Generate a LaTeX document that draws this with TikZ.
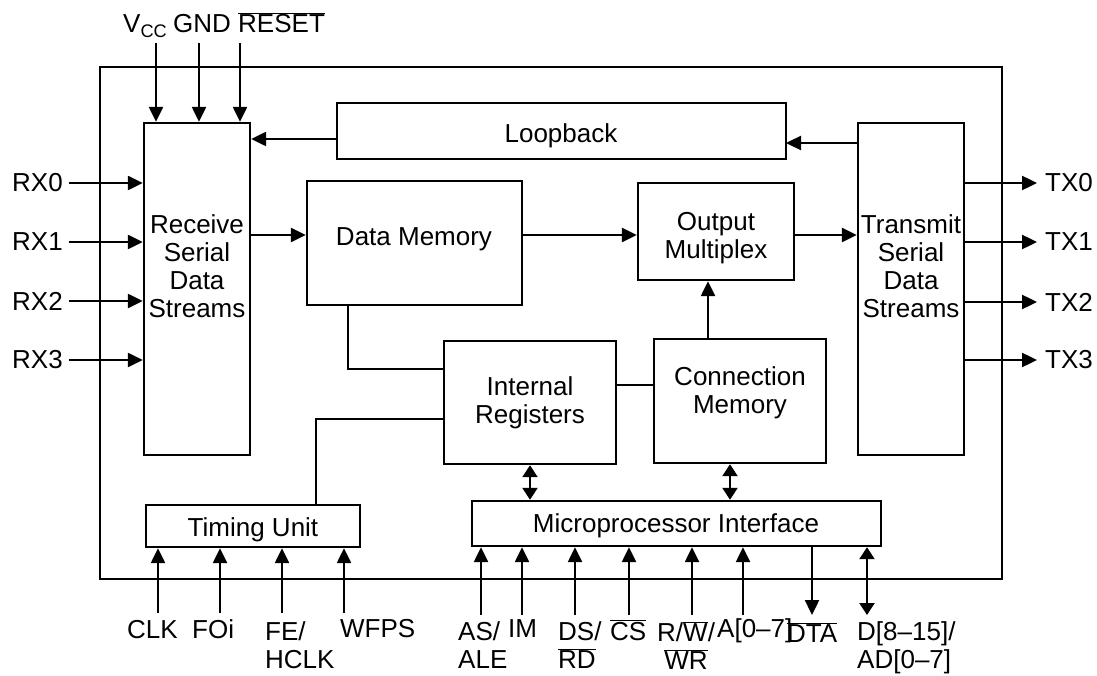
\documentclass[tikz,border=0pt]{standalone}
\usepackage{fontspec}
\setmainfont{Liberation Sans}
\usetikzlibrary{arrows.meta, positioning, calc}

\newcommand{\ovl}[1]{$\overline{\mbox{#1}}$}

\begin{document}
\begin{tikzpicture}[x=1pt, y=-1pt, line join=miter,
    box/.style={draw, line width=2.4pt, inner sep=0pt},
    lbl/.style={font=\fontsize{26}{28}\selectfont, inner sep=0pt, align=center},
    pin/.style={line width=2.4pt, -{Triangle[length=15pt,width=14pt]}},
    bus/.style={line width=2.4pt, {Triangle[length=12pt,width=15pt]}-{Triangle[length=12pt,width=15pt]}},
    wire/.style={line width=2.4pt}]
    \useasboundingbox (0,0) rectangle (1097,676);
    % Gehaeuse
    \node[box, minimum width=902, minimum height=512] (OUT) at (551,323) {};
    % Bloecke
    \node[box, minimum width=106, minimum height=332] (RX) at (197,289) {};
    \node[box, minimum width=106, minimum height=332] (TX) at (911,289) {};
    \node[box, minimum width=449, minimum height=56] (LB) at (561.5,131) {};
    \node[box, minimum width=215, minimum height=124] (DM) at (414.5,243) {};
    \node[box, minimum width=156, minimum height=97] (OM) at (716,231.5) {};
    \node[box, minimum width=172, minimum height=123] (IR) at (530,402.5) {};
    \node[box, minimum width=172, minimum height=124] (CM) at (740,401) {};
    \node[box, minimum width=214, minimum height=42] (TU) at (253,526) {};
    \node[box, minimum width=409, minimum height=45] (MI) at (676.5,523.5) {};
    % Beschriftungen der Bloecke
    \node[lbl] (RXt) at (197,266) {Receive\\Serial\\Data\\Streams};
    \node[lbl] (TXt) at (911,266) {Transmit\\Serial\\Data\\Streams};
    \node[lbl] (LBt) at (561,136) {Loopback};
    \node[lbl] (DMt) at (414,239) {Data Memory};
    \node[lbl] (OMt) at (716,238) {Output\\Multiplex};
    \node[lbl] (IRt) at (530,403) {Internal\\Registers};
    \node[lbl] (CMt) at (740,393) {Connection\\Memory};
    \node[lbl] (TUt) at (253,530) {Timing Unit};
    \node[lbl] (MIt) at (676,526) {Microprocessor Interface};
    % Datenpfad
    \coordinate (dp) at (0,235);
    \draw[pin] (dp -| RX.east) -- (dp -| DM.west);
    \draw[pin] (dp -| DM.east) -- (dp -| OM.west);
    \draw[pin] (dp -| OM.east) -- (dp -| TX.west);
    % Loopback
    \coordinate (LBr) at (786,143);
    \coordinate (LBl) at (337,139);
    \draw[pin] (LBr -| TX.west) -- (LBr);
    \draw[pin] (LBl) -- (LBl -| RX.east);
    % interne Verbindungen
    \coordinate (k1) at (348,369);
    \coordinate (k2) at (316,419);
    \coordinate (k3) at (635,385);
    \coordinate (k4) at (708,310);
    \coordinate (k5) at (730,480);
    \draw[wire] (k1 |- DM.south) -- (k1) -- (k1 -| IR.west);
    \draw[wire] (k2 |- TU.north) -- (k2) -- (k2 -| IR.west);
    \draw[wire] (k3 -| IR.east) -- (k3 -| CM.west);
    \draw[pin] (k4 |- CM.north) -- (k4 |- OM.south);
    \draw[bus] (IR.south) -- (IR.south |- MI.north);
    \draw[bus] (k5 |- CM.south) -- (k5 |- MI.north);
    % Eingaenge RX
    \node[lbl, anchor=west] (lRX0) at (12,183) {RX0};
    \node[lbl, anchor=west] (lRX1) at (12,242) {RX1};
    \node[lbl, anchor=west] (lRX2) at (12,301) {RX2};
    \node[lbl, anchor=west] (lRX3) at (12,360) {RX3};
    \draw[pin] ([xshift=6pt]lRX0.east) -- (lRX0 -| RX.west);
    \draw[pin] ([xshift=6pt]lRX1.east) -- (lRX1 -| RX.west);
    \draw[pin] ([xshift=6pt]lRX2.east) -- (lRX2 -| RX.west);
    \draw[pin] ([xshift=6pt]lRX3.east) -- (lRX3 -| RX.west);
    % Ausgaenge TX
    \node[lbl, anchor=west] (lTX0) at (1045,183) {TX0};
    \node[lbl, anchor=west] (lTX1) at (1045,242) {TX1};
    \node[lbl, anchor=west] (lTX2) at (1045,302) {TX2};
    \node[lbl, anchor=west] (lTX3) at (1045,360) {TX3};
    \draw[pin] (lTX0 -| TX.east) -- ([xshift=-8pt]lTX0.west);
    \draw[pin] (lTX1 -| TX.east) -- ([xshift=-8pt]lTX1.west);
    \draw[pin] (lTX2 -| TX.east) -- ([xshift=-8pt]lTX2.west);
    \draw[pin] (lTX3 -| TX.east) -- ([xshift=-8pt]lTX3.west);
    % Versorgung oben
    \node[lbl, anchor=base west] (lVCC) at (123,33) {V\textsubscript{CC}};
    \node[lbl, anchor=base west] (lGND) at (173,33) {GND};
    \node[lbl, anchor=base west] (lRST) at (238,33) {\ovl{RESET}};
    \coordinate (pVCC) at (156,43);
    \coordinate (pGND) at (199,43);
    \coordinate (pRST) at (240,43);
    \draw[pin] (pVCC) -- (pVCC |- RX.north);
    \draw[pin] (pGND) -- (pGND |- RX.north);
    \draw[pin] (pRST) -- (pRST |- RX.north);
    % Takt unten
    \coordinate (pCLK) at (158,613);
    \coordinate (pFOI) at (220,613);
    \coordinate (pFE) at (282,613);
    \coordinate (pWFPS) at (344,613);
    \draw[pin] (pCLK) -- (pCLK |- TU.south);
    \draw[pin] (pFOI) -- (pFOI |- TU.south);
    \draw[pin] (pFE) -- (pFE |- TU.south);
    \draw[pin] (pWFPS) -- (pWFPS |- TU.south);
    \node[lbl, anchor=base west] (lCLK) at (127,638) {CLK};
    \node[lbl, anchor=base west] (lFOI) at (192,638) {FOi};
    \node[lbl, anchor=north west, align=left] (lFE) at (265,621) {FE/\\HCLK};
    \node[lbl, anchor=base west] (lWFPS) at (340,637) {WFPS};
    % Prozessorbus unten
    \coordinate (pAS) at (481,615);
    \coordinate (pIM) at (522,615);
    \coordinate (pDS) at (575,615);
    \coordinate (pCS) at (629,615);
    \coordinate (pRW) at (692,615);
    \coordinate (pA) at (743,615);
    \coordinate (pDTA) at (812,615);
    \coordinate (pD) at (867,615);
    \draw[pin] (pAS) -- (pAS |- MI.south);
    \draw[pin] (pIM) -- (pIM |- MI.south);
    \draw[pin] (pDS) -- (pDS |- MI.south);
    \draw[pin] (pCS) -- (pCS |- MI.south);
    \draw[pin] (pRW) -- (pRW |- MI.south);
    \draw[pin] (pA) -- (pA |- MI.south);
    \draw[pin] (pDTA |- MI.south) -- (pDTA);
    \draw[bus] (pD |- MI.south) -- (pD);
    \node[lbl, anchor=north west, align=left] (lAS) at (458,621) {AS/\\ALE};
    \node[lbl, anchor=base west] (lIM) at (508,637) {IM};
    \node[lbl, anchor=north west, align=left] (lDS) at (558,621) {DS/\\\ovl{RD}};
    \node[lbl, anchor=base west] (lCS) at (610,640) {\ovl{CS}};
    \node[lbl, anchor=north west] (lRW) at (657,621) {R/\ovl{W}/\\\ovl{WR}};
    \node[lbl, anchor=base west] (lA) at (717,637) {A[0--7]};
    \node[lbl, anchor=base west] (lDTA) at (787,642) {\ovl{DTA}};
    \node[lbl, anchor=north west, align=left] (lD) at (857,621) {D[8--15]/\\AD[0--7]};
\end{tikzpicture}
\end{document}
